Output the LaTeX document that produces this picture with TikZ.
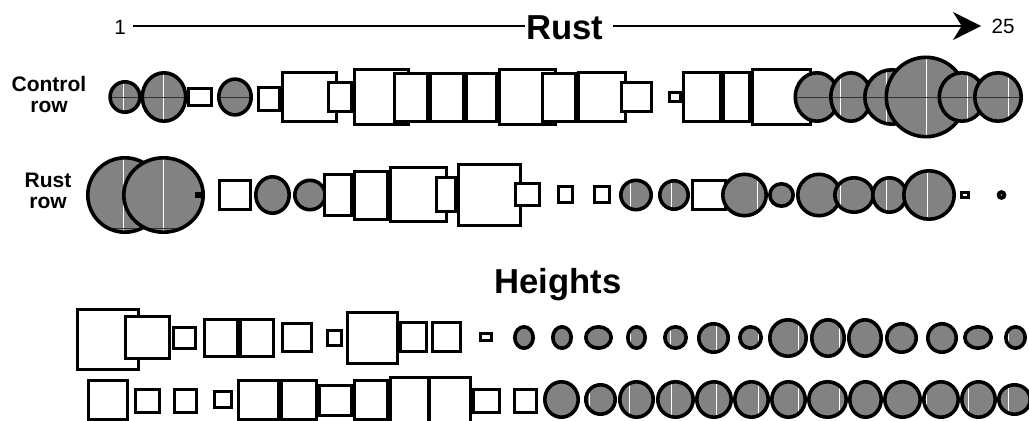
\documentclass[tikz,border=0pt]{standalone}
\usepackage{fontspec}
\setmainfont{Liberation Sans}
\usetikzlibrary{arrows.meta}
\definecolor{dotgray}{RGB}{130,130,130}
\definecolor{gridd}{RGB}{50,50,50}
\tikzset{
  rbox/.style={draw=black, fill=white, line width=2.3pt},
  cbox/.style={draw=black, line width=2.7pt},
  lab/.style={font=\bfseries\fontsize{15.75}{15.75}\selectfont, align=center, inner sep=0pt},
  num/.style={font=\fontsize{15.5}{15.5}\selectfont, inner sep=0pt, anchor=base},
  ttl/.style={font=\bfseries\fontsize{26}{26}\selectfont, inner sep=0pt, anchor=base},
  axisline/.style={line width=1.5pt},
}
% rectangle given by its outer edges (pixels)
\newcommand\rb[4]{\draw[rbox] ({#1+1.5},{#2+1.5}) rectangle ({#3-1.5},{#4-1.5});}
% grey ellipse: cx cy rx ry, x of white line, y of dark line
\newcommand\gc[6]{%
  \begin{scope}
    \path[clip] (#1,#2) ellipse [x radius={#3-1.8}, y radius={#4-1.8}];
    \fill[dotgray] ({#1-#3},{#2-#4}) rectangle ({#1+#3},{#2+#4});
    \draw[white, line width=0.6pt] (#5,{#2-#4}) -- (#5,{#2+#4});
    \draw[gridd, line width=0.5pt] ({#1-#3},#6) -- ({#1+#3},#6);
  \end{scope}
  \draw[cbox] (#1,#2) ellipse [x radius={#3-1.8}, y radius={#4-1.8}];
}
\begin{document}
\begin{tikzpicture}[x=0.75pt,y=-0.75pt]
\useasboundingbox (0,0) rectangle (1029,421);
\clip (0,0) rectangle (1029,421);

% ---- axis ----
\node[num] (one) at (120,34) {1};
\node[ttl] (rust) at (565,40) {Rust};
\node[num] (tf) at (1003,33) {25};
\coordinate (a0) at (133,26);
\coordinate (a1) at (525,26);
\coordinate (a2) at (613,26);
\coordinate (a3) at (981,26);
\draw[axisline] (a0) -- (a1);
\draw[axisline, -{Stealth[length=21pt, width=21pt, inset=6.5pt]}] (a2) -- (a3);

% ---- labels ----
\node[lab] (ctl) at (49,94.5) {Control\\row};
\node[lab] (rrow) at (48,190.5) {Rust\\row};
\node[ttl] (hts) at (558,293) {Heights};

% ---- control row ----
\gc{125}{97}{16.7}{17}{123}{97}
\gc{164}{97}{23.5}{26}{163}{97}
\rb{187}{87}{213}{107}
\gc{235}{97}{18}{19.7}{-100}{97}
\rb{257}{86}{281}{112}
\rb{281}{71}{338}{123}
\rb{327}{81}{353}{113}
\rb{353}{68}{410}{126}
\rb{393}{72}{429}{123}
\rb{429}{72}{465}{123}
\rb{465}{72}{498}{123}
\rb{498}{68}{557}{126}
\rb{541}{72}{577}{123}
\rb{577}{71}{627}{123}
\rb{620}{81}{653}{113}
\rb{668}{91}{682}{103}
\rb{682}{71}{722}{123}
\rb{722}{71}{751}{123}
\rb{751}{68}{812}{126}
\gc{817}{97}{23.5}{26}{-100}{97}
\gc{851}{97}{22}{26}{840}{97}
\gc{892}{97}{29}{29}{886}{97}
\gc{926}{97}{41.5}{41.5}{926}{97}
\gc{962}{97}{24.5}{26}{967}{97}
\gc{998}{97}{25}{26}{1008}{97}

% ---- rust row ----
\gc{125}{195}{39}{39}{123}{228}
\gc{163.5}{195}{41.5}{39}{163}{228}
\rb{195}{192}{204}{198}
\rb{218}{179}{252}{211}
\gc{272.5}{195}{18.5}{20}{-100}{-100}
\gc{310}{195}{17}{16.5}{-100}{-100}
\rb{323}{173}{353}{217}
\rb{353}{170}{389}{221}
\rb{389}{166}{448}{223}
\rb{435}{176}{457}{213}
\rb{457}{163}{522}{227}
\rb{514}{182}{541}{207}
\rb{557}{185}{574}{204}
\rb{593}{185}{611}{204}
\gc{636}{195}{17}{16.5}{630}{-100}
\gc{674}{195}{16}{16}{671}{-100}
\rb{691}{179}{727}{211}
\gc{744.5}{195}{23.5}{22.5}{757}{-100}
\gc{781.5}{195}{13.5}{13}{-100}{-100}
\gc{819}{195}{23}{22.5}{-100}{-100}
\gc{854}{195}{21}{19}{840}{-100}
\gc{889.5}{195}{18.5}{19}{886}{-100}
\gc{929}{195}{27}{26}{927}{-100}
\rb{960}{191}{970}{199}
\gc{1001.5}{195}{4.8}{4.8}{-100}{-100}

% ---- heights row 1 ----
\rb{76}{308}{140}{371}
\rb{124}{315}{171}{360}
\rb{172}{326}{197}{350}
\rb{203}{318}{239}{358}
\rb{239}{318}{275}{358}
\rb{281}{322}{313}{353}
\rb{326}{329}{343}{347}
\rb{346}{311}{399}{365}
\rb{399}{321}{428}{353}
\rb{431}{321}{462}{353}
\rb{479}{332}{493}{342}
\gc{524}{337.5}{11}{12.5}{-100}{-100}
\gc{562}{337.5}{11}{12.5}{-100}{-100}
\gc{598.5}{337.5}{14.5}{12.5}{-100}{-100}
\gc{636.5}{337.5}{10.5}{12.5}{630}{-100}
\gc{675.5}{337.5}{12.5}{12.5}{670}{-100}
\gc{713.5}{338}{16.5}{16}{716}{-100}
\gc{750.5}{337.5}{12.5}{12.5}{758}{-100}
\gc{788}{338}{20}{20}{798}{-100}
\gc{828}{338}{18}{20}{839}{-100}
\gc{865}{338}{18}{20}{-100}{-100}
\gc{901.5}{338}{16.5}{16}{-100}{-100}
\gc{942}{338}{16}{16}{-100}{-100}
\gc{978}{337.5}{15}{12.5}{-100}{-100}
\gc{1015.5}{337.5}{11.5}{12.5}{1008}{-100}

% ---- heights row 2 ----
\rb{87}{379}{129}{421}
\rb{134}{388}{161}{414}
\rb{173}{388}{198}{414}
\rb{213}{390}{233}{409}
\rb{237}{379}{280}{421}
\rb{280}{379}{318}{421}
\rb{318}{384}{353}{417}
\rb{353}{379}{389}{421}
\rb{389}{376}{430}{440}
\rb{428}{376}{472}{440}
\rb{472}{388}{501}{414}
\rb{513}{388}{538}{414}
\gc{561.5}{399.5}{18.5}{19.5}{-100}{-100}
\gc{600.5}{399.5}{16.5}{16.5}{589}{-100}
\gc{636.5}{399.5}{18.5}{19.5}{629}{-100}
\gc{675.5}{399.5}{19.5}{19.5}{671}{-100}
\gc{714}{399.5}{19}{19.5}{716}{-100}
\gc{751.5}{399.5}{18.5}{19.5}{758}{-100}
\gc{788.5}{399.5}{18.5}{19.5}{798}{-100}
\gc{827.5}{399.5}{20.5}{19.5}{839}{-100}
\gc{865.5}{399.5}{17.5}{19.5}{-100}{-100}
\gc{902.5}{399.5}{19.5}{19.5}{885}{-100}
\gc{941}{399.5}{19}{19.5}{926}{-100}
\gc{978.5}{399.5}{18.5}{19.5}{968}{-100}
\gc{1014.5}{399.5}{17.5}{16.5}{1008}{-100}
\end{tikzpicture}
\end{document}
